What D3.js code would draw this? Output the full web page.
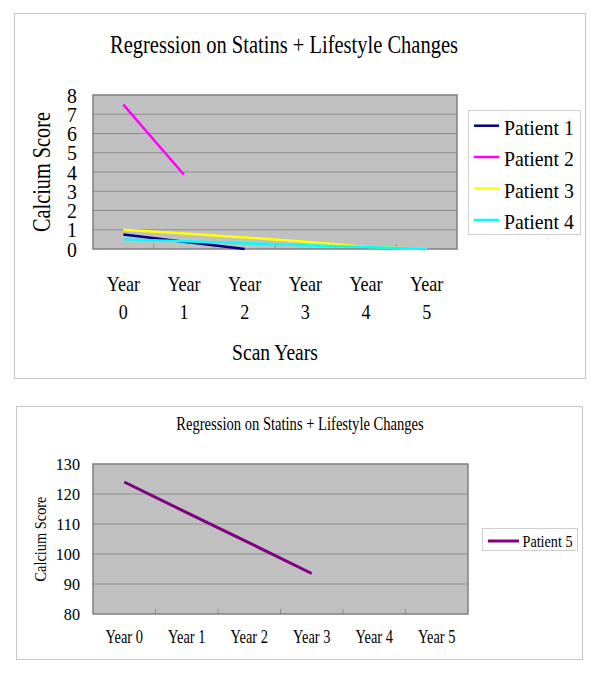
<!DOCTYPE html>
<html><head><meta charset="utf-8">
<script src="https://cdn.jsdelivr.net/npm/d3@7"></script>
<style>body{margin:0;background:#fff}svg{display:block}text{font-family:"Liberation Serif","Times New Roman",serif;fill:#000}</style>
</head><body>
<script>
// ---- data ----
const categories = ["Year 0", "Year 1", "Year 2", "Year 3", "Year 4", "Year 5"];
const topTitle = "Regression on Statins + Lifestyle Changes";
const bottomTitle = "Regression on Statins + Lifestyle Changes";
const yLabel = "Calcium Score";
const xLabel = "Scan Years";
const topSeriesNames = ["Patient 1", "Patient 2", "Patient 3", "Patient 4"];
const patient1 = [0.75, 0.38, 0];
const patient2 = [7.5, 3.86];
const patient3 = [1.0, 0.8, 0.6, 0.38, 0.12, 0];
const patient4 = [0.5, 0.4, 0.3, 0.2, 0.1, 0];
const topColors = ["#000080", "#ff00ff", "#ffff00", "#00ffff"];
const topYTicks = [0, 1, 2, 3, 4, 5, 6, 7, 8];
const bottomSeriesName = "Patient 5";
const patient5 = [124, 113.8, 103.7, 93.5];
const bottomColor = "#800080";
const bottomYTicks = [80, 90, 100, 110, 120, 130];

// ---- helpers ----
function condense(sel, k) {
  sel.each(function () {
    const w = this.getComputedTextLength();
    d3.select(this).attr("textLength", w * k).attr("lengthAdjust", "spacingAndGlyphs");
  });
}

const svg = d3.select("body").append("svg").attr("width", 600).attr("height", 674);
svg.append("rect").attr("width", 600).attr("height", 674).attr("fill", "#fff");

// ================= TOP CHART =================
svg.append("rect").attr("x", 14.5).attr("y", 13.5).attr("width", 571).attr("height", 365)
  .attr("fill", "#fff").attr("stroke", "#c8c8c8");

const t = { left: 93, right: 457, top: 95, bottom: 249 };
const xT = d3.scaleBand().domain(categories).range([t.left, t.right]).padding(0);
const yT = d3.scaleLinear().domain([0, 8]).range([t.bottom, t.top]);

svg.append("text").attr("x", 284).attr("y", 53).attr("text-anchor", "middle")
  .style("font-size", "25px").text(topTitle).call(condense, 0.82);

svg.append("rect").attr("x", t.left).attr("y", t.top).attr("width", t.right - t.left)
  .attr("height", t.bottom - t.top).attr("fill", "#c0c0c0");
svg.append("g").selectAll("line").data(topYTicks.filter(d => d > 0 && d < 8)).join("line")
  .attr("x1", t.left).attr("x2", t.right).attr("y1", d => yT(d)).attr("y2", d => yT(d))
  .attr("stroke", "#8e8e8e").attr("stroke-width", 1);
svg.append("g").selectAll("line").data(categories.slice(1)).join("line")
  .attr("x1", d => xT(d)).attr("x2", d => xT(d)).attr("y1", t.bottom).attr("y2", t.bottom - 5)
  .attr("stroke", "#8e8e8e");
svg.append("rect").attr("x", t.left).attr("y", t.top).attr("width", t.right - t.left)
  .attr("height", t.bottom - t.top).attr("fill", "none").attr("stroke", "#808080").attr("stroke-width", 1.5);

const yAxT = svg.append("g").attr("transform", `translate(${t.left},0)`)
  .call(d3.axisLeft(yT).tickValues(topYTicks).tickSize(0).tickPadding(16).tickFormat(d3.format("d")));
yAxT.select(".domain").remove();
yAxT.selectAll("text").attr("font-family", null).style("font-size", "22px").call(condense, 0.9);
yAxT.attr("font-family", null).attr("font-size", null);

const xAxT = svg.append("g").attr("transform", `translate(0,${t.bottom})`)
  .call(d3.axisBottom(xT).tickSize(0).tickPadding(0));
xAxT.select(".domain").remove();
xAxT.attr("font-family", null).attr("font-size", null);
xAxT.selectAll("text").each(function (d) {
  const parts = d.split(" ");
  const el = d3.select(this).text(null).attr("y", 0).attr("dy", null).style("font-size", "22px");
  el.append("tspan").attr("x", 0).attr("y", 42).text(parts[0]);
  el.append("tspan").attr("x", 0).attr("y", 70).text(parts[1]);
});
xAxT.selectAll("tspan").call(condense, 0.82);

svg.append("text").attr("x", 275).attr("y", 360).attr("text-anchor", "middle")
  .style("font-size", "23px").text(xLabel).call(condense, 0.85);
svg.append("text").attr("transform", `translate(50,${(t.top + t.bottom) / 2}) rotate(-90)`)
  .attr("text-anchor", "middle").style("font-size", "25px").text(yLabel).call(condense, 0.81);

const topSeries = [patient1, patient2, patient3, patient4];
const lineT = d3.line().x((d, i) => xT(categories[i]) + xT.bandwidth() / 2).y(d => yT(d));
// draw order: patient4, patient3 beneath? keep order 1..4
svg.append("g").selectAll("path").data(topSeries).join("path")
  .attr("d", d => lineT(d)).attr("fill", "none")
  .attr("stroke", (d, i) => topColors[i]).attr("stroke-width", 2.5);

// legend
svg.append("rect").attr("x", 468.5).attr("y", 110.5).attr("width", 112).attr("height", 124)
  .attr("fill", "#fff").attr("stroke", "#d0d0d0");
const legRowsY = [125.7, 157, 188.5, 220];
const lg = svg.append("g").selectAll("g").data(topSeriesNames).join("g")
  .attr("transform", (d, i) => `translate(0,${legRowsY[i]})`);
lg.append("line").attr("x1", 474).attr("x2", 499).attr("y1", 0).attr("y2", 0)
  .attr("stroke", (d, i) => topColors[i]).attr("stroke-width", 2.5);
lg.append("text").attr("x", 504).attr("y", 9).style("font-size", "22px").text(d => d).call(condense, 0.9);

// ================= BOTTOM CHART =================
svg.append("rect").attr("x", 16.5).attr("y", 406.5).attr("width", 566).attr("height", 253)
  .attr("fill", "#fff").attr("stroke", "#c8c8c8");

const b = { left: 93, right: 468, top: 464, bottom: 614 };
const xB = d3.scaleBand().domain(categories).range([b.left, b.right]).padding(0);
const yB = d3.scaleLinear().domain([80, 130]).range([b.bottom, b.top]);

svg.append("text").attr("x", 300).attr("y", 430).attr("text-anchor", "middle")
  .style("font-size", "18px").text(bottomTitle).call(condense, 0.81);

svg.append("rect").attr("x", b.left).attr("y", b.top).attr("width", b.right - b.left)
  .attr("height", b.bottom - b.top).attr("fill", "#c0c0c0");
svg.append("g").selectAll("line").data(bottomYTicks.filter(d => d > 80 && d < 130)).join("line")
  .attr("x1", b.left).attr("x2", b.right).attr("y1", d => yB(d)).attr("y2", d => yB(d))
  .attr("stroke", "#8e8e8e").attr("stroke-width", 1);
svg.append("g").selectAll("line").data(categories.slice(1)).join("line")
  .attr("x1", d => xB(d)).attr("x2", d => xB(d)).attr("y1", b.bottom).attr("y2", b.bottom - 5)
  .attr("stroke", "#8e8e8e");
svg.append("rect").attr("x", b.left).attr("y", b.top).attr("width", b.right - b.left)
  .attr("height", b.bottom - b.top).attr("fill", "none").attr("stroke", "#808080").attr("stroke-width", 1.5);

const yAxB = svg.append("g").attr("transform", `translate(${b.left},0)`)
  .call(d3.axisLeft(yB).tickValues(bottomYTicks).tickSize(0).tickPadding(13).tickFormat(d3.format("d")));
yAxB.select(".domain").remove();
yAxB.attr("font-family", null).attr("font-size", null);
yAxB.selectAll("text").style("font-size", "17px").call(condense, 0.95);

const xAxB = svg.append("g").attr("transform", `translate(0,${b.bottom})`)
  .call(d3.axisBottom(xB).tickSize(0).tickPadding(0));
xAxB.select(".domain").remove();
xAxB.attr("font-family", null).attr("font-size", null);
xAxB.selectAll("text").attr("y", 29).attr("dy", null).style("font-size", "18px").call(condense, 0.8);

svg.append("text").attr("transform", `translate(46,${(b.top + b.bottom) / 2}) rotate(-90)`)
  .attr("text-anchor", "middle").style("font-size", "17px").text(yLabel).call(condense, 0.845);

const lineB = d3.line().x((d, i) => xB(categories[i]) + xB.bandwidth() / 2).y(d => yB(d));
svg.append("path").datum(patient5).attr("d", lineB).attr("fill", "none")
  .attr("stroke", bottomColor).attr("stroke-width", 3);

svg.append("rect").attr("x", 482.5).attr("y", 528.5).attr("width", 95).attr("height", 22)
  .attr("fill", "#fff").attr("stroke", "#d0d0d0");
svg.append("line").attr("x1", 488).attr("x2", 519).attr("y1", 541).attr("y2", 541)
  .attr("stroke", bottomColor).attr("stroke-width", 3);
svg.append("text").attr("x", 522.5).attr("y", 546.5).style("font-size", "17.5px")
  .text(bottomSeriesName).call(condense, 0.81);
</script>
</body></html>
